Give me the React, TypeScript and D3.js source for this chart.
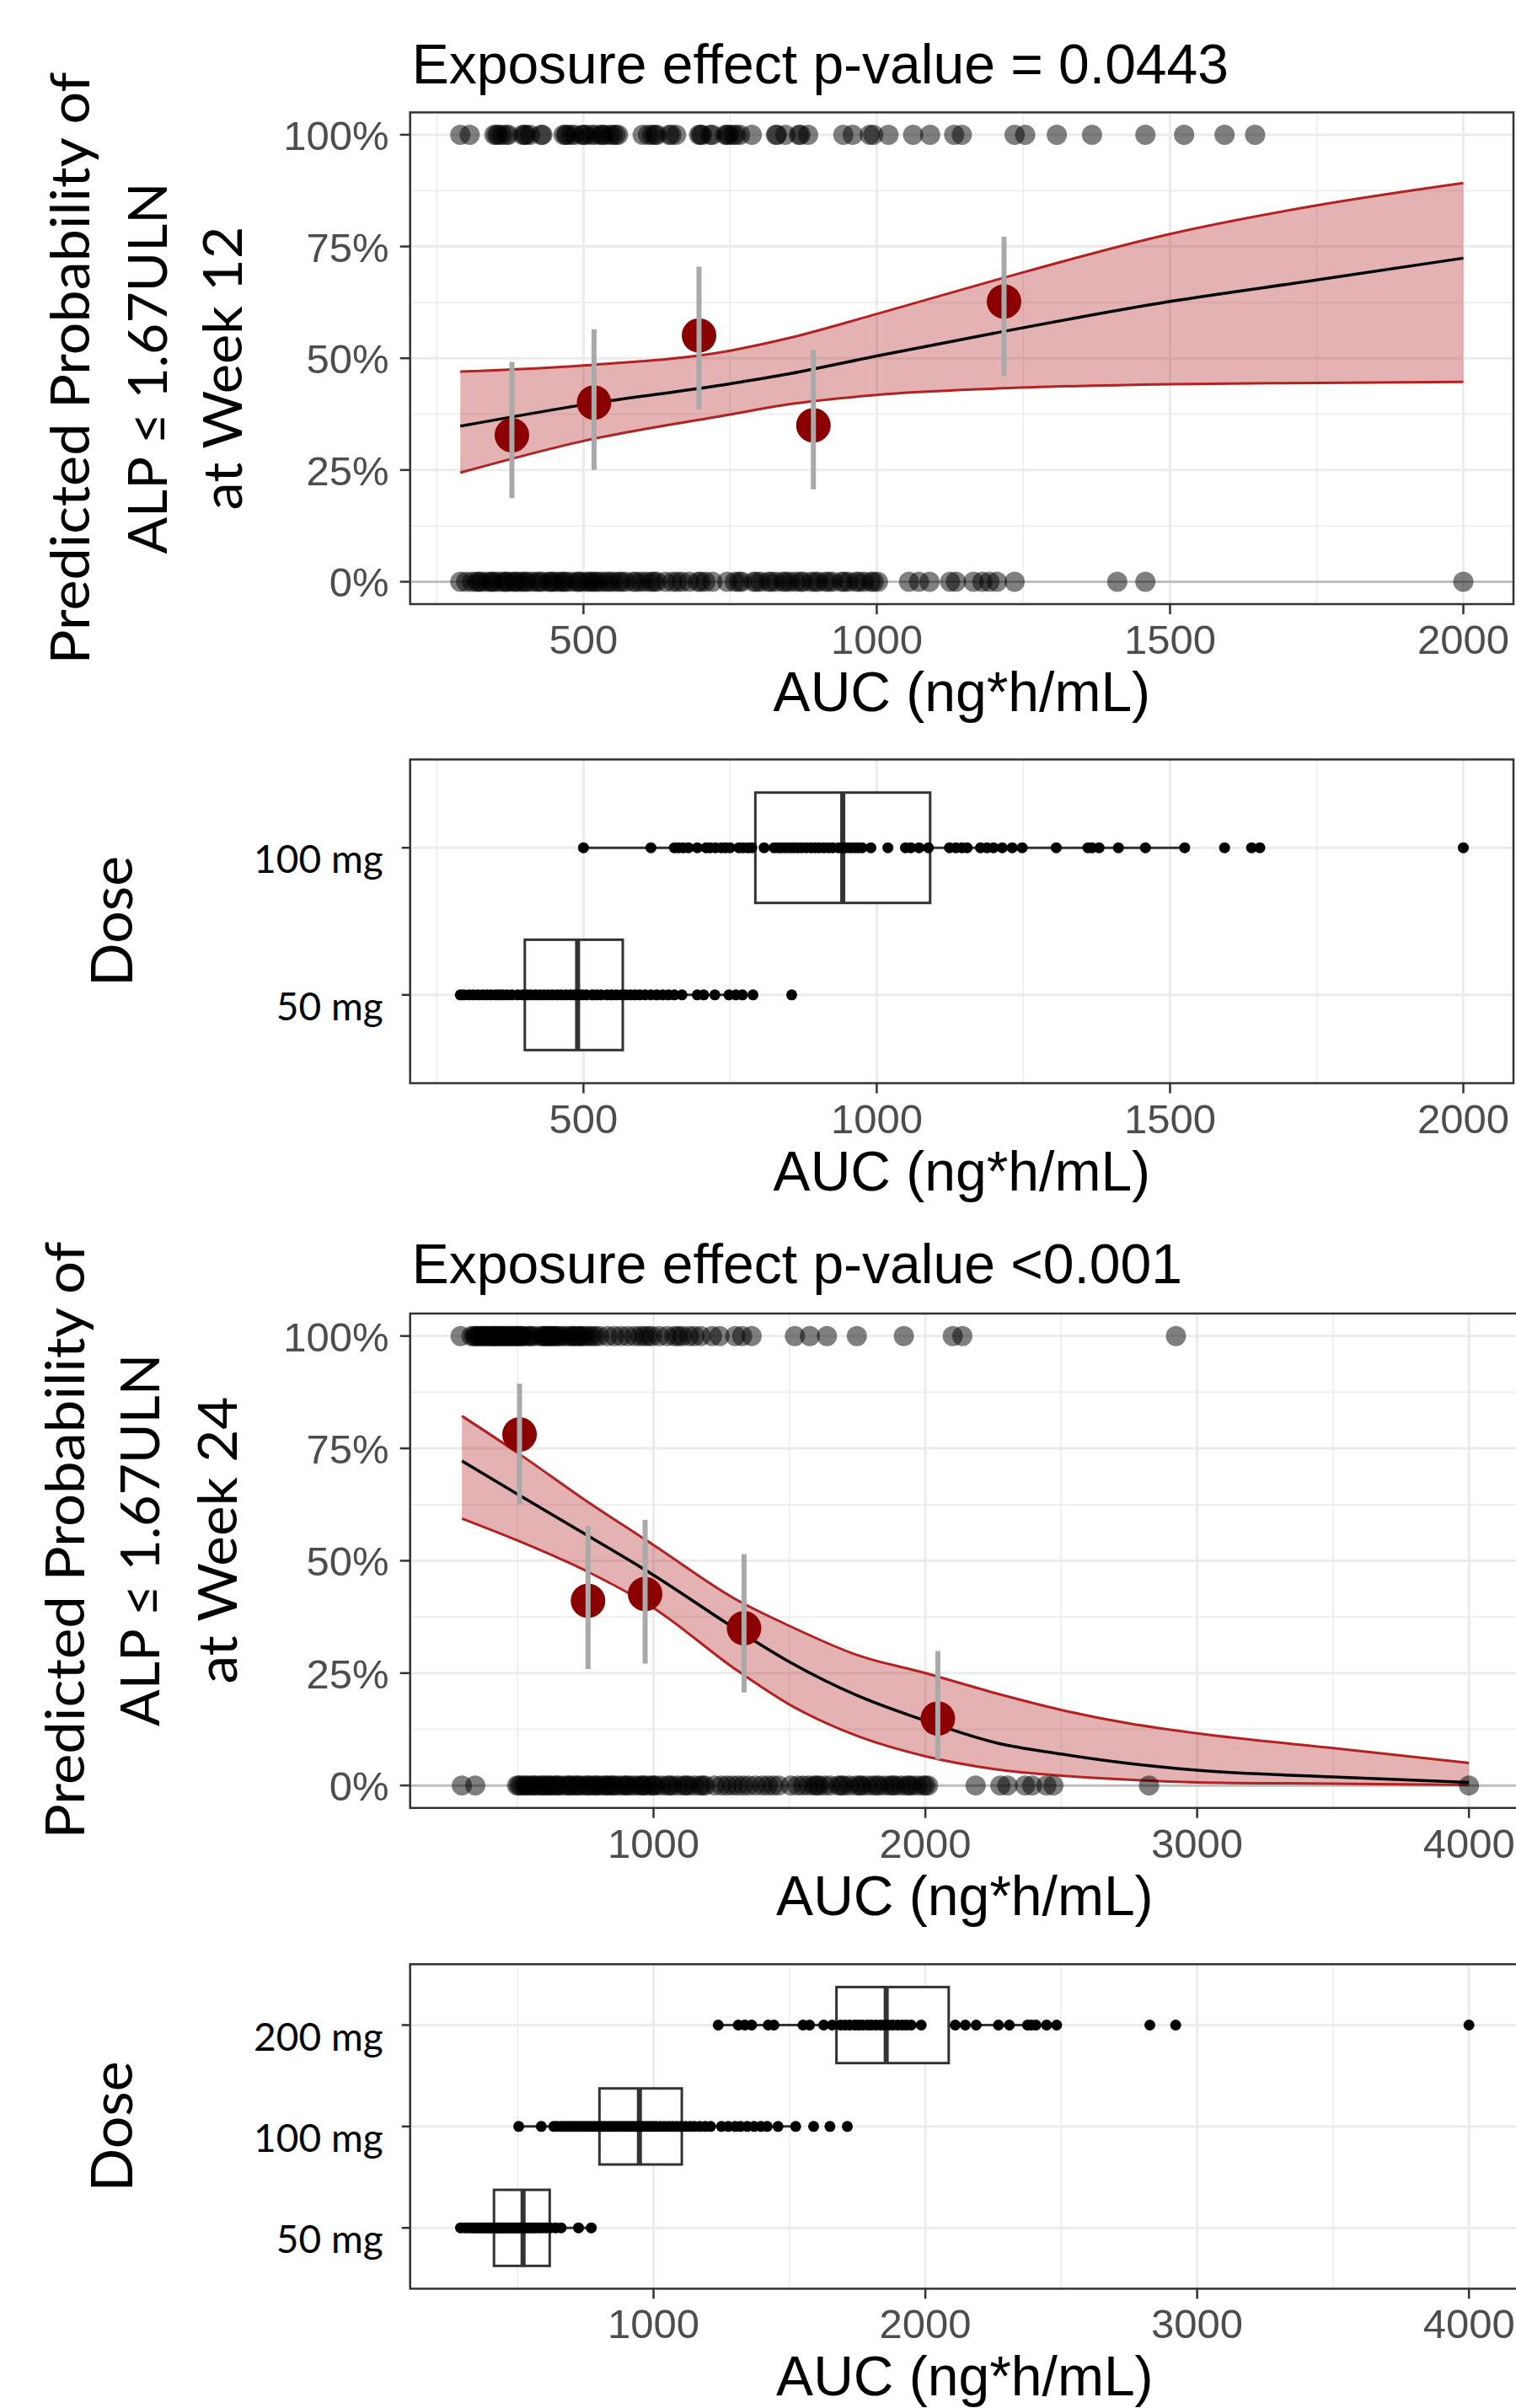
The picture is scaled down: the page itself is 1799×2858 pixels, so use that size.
import { useEffect, useRef } from "react";
import * as d3 from "d3";

const W = 1799;
const H = 2858;
const SANS = "'Liberation Sans', Arial, sans-serif";
const LATO = "Lato, 'Open Sans', sans-serif";

// ---------- week 12 : logistic fit (%)
const fitAuc12 = [290, 500, 750, 850, 1000, 1200, 1500, 1750, 2000];
const fitMid12 = [34.8, 39.6, 44.3, 46.5, 50.5, 55.6, 62.7, 67.5, 72.4];
const fitLo12 = [24.4, 31.5, 37.4, 39.7, 41.8, 43.2, 44.2, 44.5, 44.7];
const fitHi12 = [47.0, 48.4, 51.7, 54.5, 59.9, 67.4, 77.8, 84.2, 89.2];

// observed proportion per exposure bin
const obsAuc12 = [378, 518, 697, 892, 1217];
const obsPct12 = [32.8, 40.1, 55.1, 35.0, 62.7];
const obsLo12 = [18.7, 25.0, 38.6, 20.7, 46.0];
const obsHi12 = [49.2, 56.5, 70.5, 51.8, 77.2];

// individual subjects (responders at 100%, non-responders at 0%)
const yes12 = [290, 306, 348, 352, 355, 361, 368, 372, 396, 400, 402, 409, 428, 430, 466, 470, 472, 479, 485, 498,
  500, 505, 514, 520, 530, 532, 536, 545, 550, 555, 559, 601, 610, 617, 622, 625, 646, 650, 658, 697, 700, 702, 716,
  720, 742, 745, 748, 755, 760, 767, 787, 828, 830, 844, 867, 870, 883, 943, 959, 988, 994, 1020, 1062, 1091, 1132,
  1145, 1235, 1253, 1307, 1367, 1458, 1524, 1593, 1645];
const no12 = [290, 300, 310, 318, 322, 326, 335, 342, 345, 350, 358, 365, 368, 372, 380, 384, 388, 395, 400, 404,
  412, 420, 425, 430, 440, 445, 448, 455, 462, 466, 470, 478, 488, 492, 496, 505, 510, 515, 520, 525, 532, 540, 545,
  552, 560, 565, 572, 585, 590, 598, 606, 615, 620, 625, 640, 652, 660, 668, 680, 695, 700, 708, 720, 745, 758, 765,
  770, 790, 795, 802, 815, 820, 828, 840, 845, 852, 862, 870, 875, 888, 895, 900, 912, 918, 925, 940, 945, 952, 965,
  970, 978, 990, 995, 1002, 1055, 1072, 1090, 1125, 1135, 1165, 1180, 1192, 1205, 1235, 1410, 1458, 2000];

// dose groups, week 12 population
const doses12 = ["50 mg", "100 mg"];
const d50_12 = [290, 296, 305, 312, 320, 328, 335, 342, 350, 356, 362, 370, 378, 388, 396, 404, 410, 418, 425, 432,
  440, 447, 455, 462, 470, 478, 485, 492, 498, 505, 515, 522, 530, 540, 548, 556, 565, 572, 580, 588, 596, 605, 615,
  625, 635, 645, 655, 668, 694, 705, 724, 748, 760, 771, 789, 855];
const d100_12 = [500, 615, 655, 662, 670, 679, 694, 709, 716, 725, 735, 742, 750, 765, 772, 780, 787, 808, 825, 832,
  838, 845, 852, 858, 865, 872, 880, 888, 895, 902, 910, 918, 925, 935, 942, 948, 955, 962, 968, 975, 990, 1019,
  1049, 1058, 1072, 1088, 1124, 1135, 1145, 1154, 1177, 1188, 1199, 1214, 1231, 1248, 1306, 1360, 1367, 1379, 1412,
  1458, 1525, 1593, 1639, 1653, 2000];
const q1_12 = [400, 793];
const med12 = [490, 942];
const q3_12 = [567, 1091];
const wLo12 = [290, 500];
const wHi12 = [789, 1525];

// ---------- week 24
const fitAuc24 = [295, 500, 760, 1000, 1300, 1500, 1750, 2000, 2260, 2500, 2750, 3000, 3500, 4000];
const fitMid24 = [72.2, 64.8, 55.5, 46.8, 34.9, 27.5, 20.0, 14.4, 9.5, 7.0, 4.9, 3.4, 1.9, 0.7];
const fitLo24 = [59.4, 54.5, 47.5, 39.5, 25.9, 18.0, 11.0, 6.5, 3.6, 2.2, 1.3, 0.7, 0.4, 0.1];
const fitHi24 = [82.2, 74.0, 63.0, 53.5, 41.5, 35.5, 29.0, 25.0, 20.5, 16.8, 13.8, 11.6, 8.3, 5.0];

const obsAuc24 = [507, 759, 969, 1333, 2046];
const obsPct24 = [78.1, 41.1, 42.6, 35.0, 14.9];
const obsLo24 = [62.6, 25.9, 27.1, 20.7, 5.8];
const obsHi24 = [89.4, 57.7, 59.1, 51.5, 29.9];

const yes24 = [290, 330, 340, 345, 352, 360, 365, 372, 380, 385, 390, 398, 405, 410, 415, 420, 425, 432, 440, 445,
  450, 458, 466, 470, 475, 485, 490, 495, 503, 510, 515, 520, 535, 545, 550, 565, 585, 595, 600, 605, 615, 620, 625,
  635, 640, 648, 660, 672, 685, 698, 705, 710, 722, 730, 735, 748, 760, 772, 785, 800, 830, 856, 880, 905, 930, 950,
  966, 980, 994, 1020, 1050, 1077, 1090, 1105, 1130, 1150, 1174, 1215, 1243, 1301, 1326, 1361, 1520, 1575, 1638,
  1748, 1921, 2101, 2136, 2922];
const no24 = [295, 344, 498, 505, 512, 525, 530, 540, 552, 560, 566, 580, 590, 595, 608, 615, 622, 636, 645, 650,
  665, 680, 690, 695, 710, 720, 725, 740, 755, 760, 770, 785, 790, 800, 815, 825, 830, 845, 850, 860, 875, 890, 900,
  905, 920, 935, 950, 960, 965, 980, 995, 1000, 1010, 1030, 1050, 1060, 1070, 1090, 1110, 1120, 1130, 1150, 1170,
  1180, 1190, 1225, 1250, 1270, 1290, 1310, 1330, 1350, 1375, 1400, 1420, 1440, 1460, 1505, 1530, 1550, 1570, 1590,
  1600, 1610, 1630, 1650, 1680, 1690, 1700, 1720, 1745, 1760, 1765, 1785, 1805, 1820, 1830, 1850, 1870, 1880, 1890,
  1910, 1930, 1940, 1950, 1970, 1990, 2000, 2010, 2185, 2276, 2302, 2367, 2393, 2445, 2471, 2823, 4000];

const doses24 = ["50 mg", "100 mg", "200 mg"];
const d50_24 = [290, 305, 318, 330, 340, 350, 360, 368, 376, 385, 395, 402, 410, 418, 425, 432, 440, 448, 455, 462,
  470, 478, 486, 494, 502, 510, 518, 526, 535, 545, 555, 565, 578, 590, 605, 620, 640, 660, 724, 771];
const d100_24 = [504, 587, 633, 645, 660, 672, 685, 698, 710, 722, 735, 748, 760, 772, 785, 798, 810, 822, 835, 848,
  860, 872, 885, 898, 910, 922, 935, 948, 960, 972, 985, 998, 1010, 1025, 1040, 1055, 1070, 1085, 1100, 1118, 1135,
  1150, 1170, 1190, 1210, 1250, 1275, 1300, 1320, 1345, 1370, 1395, 1418, 1458, 1523, 1589, 1649, 1713];
const d200_24 = [1238, 1312, 1336, 1361, 1422, 1443, 1550, 1574, 1626, 1657, 1688, 1705, 1722, 1740, 1755, 1770,
  1788, 1802, 1818, 1835, 1850, 1865, 1880, 1898, 1915, 1930, 1948, 1985, 2110, 2147, 2187, 2269, 2309, 2376, 2390,
  2407, 2446, 2483, 2826, 2921, 4000];
const q1_24 = [413, 801, 1673];
const med24 = [520, 948, 1856];
const q3_24 = [618, 1104, 2086];
const wLo24 = [290, 504, 1238];
const wHi24 = [771, 1523, 2483];

const yTicks = [0, 0.25, 0.5, 0.75, 1];
const yMinor = [0.125, 0.375, 0.625, 0.875];
const xTicks12 = [500, 1000, 1500, 2000];
const xMinor12 = [250, 750, 1250, 1750];
const xTicks24 = [1000, 2000, 3000, 4000];
const xMinor24 = [500, 1500, 2500, 3500];

type Sel = d3.Selection<SVGSVGElement, unknown, null, undefined>;

const expand = (vals: number[]) => {
  const [mn, mx] = d3.extent(vals) as [number, number];
  const pad = (mx - mn) * 0.05;
  return [mn - pad, mx + pad];
};

function xAxis(svg: Sel, x: d3.ScaleLinear<number, number>, ticks: number[], bottom: number) {
  svg.append("g").selectAll("line").data(ticks).join("line")
    .attr("x1", d => x(d)).attr("x2", d => x(d))
    .attr("y1", bottom).attr("y2", bottom + 12)
    .attr("stroke", "#333").attr("stroke-width", 2.5);
  svg.append("g").selectAll("text").data(ticks).join("text")
    .attr("x", d => x(d)).attr("y", bottom + 59)
    .attr("text-anchor", "middle")
    .attr("font-family", SANS).attr("font-size", 49).attr("fill", "#4D4D4D")
    .text(d => String(d));
  const [r0, r1] = x.range();
  svg.append("text")
    .attr("x", (r0 + r1) / 2).attr("y", bottom + 127)
    .attr("text-anchor", "middle")
    .attr("font-family", SANS).attr("font-size", 66).attr("fill", "#000")
    .text("AUC (ng*h/mL)");
}

function vGrid(svg: Sel, x: d3.ScaleLinear<number, number>, major: number[], minor: number[], top: number, bottom: number) {
  svg.append("g").selectAll("line").data(minor).join("line")
    .attr("x1", d => x(d)).attr("x2", d => x(d)).attr("y1", top).attr("y2", bottom)
    .attr("stroke", "#EBEBEB").attr("stroke-width", 1.5);
  svg.append("g").selectAll("line").data(major).join("line")
    .attr("x1", d => x(d)).attr("x2", d => x(d)).attr("y1", top).attr("y2", bottom)
    .attr("stroke", "#EBEBEB").attr("stroke-width", 2.9);
}

function drawProb(svg: Sel, c: any) {
  const x = d3.scaleLinear().domain(c.xDomain).range([c.left, c.right]);
  const y = d3.scaleLinear().domain([-0.05, 1.05]).range([c.bottom, c.top]);

  svg.append("rect").attr("x", c.left).attr("y", c.top)
    .attr("width", c.right - c.left).attr("height", c.bottom - c.top).attr("fill", "#fff");

  svg.append("g").selectAll("line").data(yMinor).join("line")
    .attr("x1", c.left).attr("x2", c.right).attr("y1", d => y(d)).attr("y2", d => y(d))
    .attr("stroke", "#EBEBEB").attr("stroke-width", 1.5);
  vGrid(svg, x, c.xTicks, c.xMinor, c.top, c.bottom);
  svg.append("g").selectAll("line").data(yTicks).join("line")
    .attr("x1", c.left).attr("x2", c.right).attr("y1", d => y(d)).attr("y2", d => y(d))
    .attr("stroke", "#EBEBEB").attr("stroke-width", 2.9);
  svg.append("line").attr("x1", c.left).attr("x2", c.right).attr("y1", y(0)).attr("y2", y(0))
    .attr("stroke", "#BEBEBE").attr("stroke-width", 3);

  const idx = d3.range(c.fitAuc.length);
  const band = d3.area<number>()
    .x(i => x(c.fitAuc[i]))
    .y0(i => y(c.fitLo[i] / 100))
    .y1(i => y(c.fitHi[i] / 100))
    .curve(d3.curveMonotoneX);
  svg.append("path").datum(idx).attr("d", band)
    .attr("fill", "#B22222").attr("fill-opacity", 0.35);
  const edge = (arr: number[]) => d3.line<number>().x(i => x(c.fitAuc[i])).y(i => y(arr[i] / 100)).curve(d3.curveMonotoneX);
  [c.fitLo, c.fitHi].forEach((arr: number[]) => {
    svg.append("path").datum(idx).attr("d", edge(arr))
      .attr("fill", "none").attr("stroke", "#B22222").attr("stroke-width", 3);
  });
  svg.append("path").datum(idx).attr("d", edge(c.fitMid))
    .attr("fill", "none").attr("stroke", "#000").attr("stroke-width", 3.5);

  const oi = d3.range(c.obsAuc.length);
  svg.append("g").selectAll("circle").data(oi).join("circle")
    .attr("cx", i => x(c.obsAuc[i])).attr("cy", i => y(c.obsPct[i] / 100))
    .attr("r", 20.5).attr("fill", "#8B0000");
  svg.append("g").selectAll("line").data(oi).join("line")
    .attr("x1", i => x(c.obsAuc[i])).attr("x2", i => x(c.obsAuc[i]))
    .attr("y1", i => y(c.obsLo[i] / 100)).attr("y2", i => y(c.obsHi[i] / 100))
    .attr("stroke", "#A9A9A9").attr("stroke-width", 6);

  const rows = [{ v: c.yes, p: 1 }, { v: c.no, p: 0 }];
  rows.forEach(r => {
    svg.append("g").selectAll("circle").data(r.v).join("circle")
      .attr("cx", d => x(d as number)).attr("cy", y(r.p))
      .attr("r", 12).attr("fill", "#000").attr("fill-opacity", 0.5);
  });

  svg.append("rect").attr("x", c.left).attr("y", c.top)
    .attr("width", c.right - c.left).attr("height", c.bottom - c.top)
    .attr("fill", "none").attr("stroke", "#333").attr("stroke-width", 2.5);

  // y axis
  svg.append("g").selectAll("line").data(yTicks).join("line")
    .attr("x1", c.left - 12).attr("x2", c.left).attr("y1", d => y(d)).attr("y2", d => y(d))
    .attr("stroke", "#333").attr("stroke-width", 2.5);
  svg.append("g").selectAll("text").data(yTicks).join("text")
    .attr("x", c.left - 25).attr("y", d => y(d) + 18)
    .attr("text-anchor", "end")
    .attr("font-family", SANS).attr("font-size", 49).attr("fill", "#4D4D4D")
    .text(d => d3.format(".0%")(d));
  xAxis(svg, x, c.xTicks, c.bottom);

  svg.append("text").attr("x", c.left + 2).attr("y", c.titleY)
    .attr("font-family", SANS).attr("font-size", 66).attr("fill", "#000")
    .text(c.title);

  c.yLines.forEach((t: string, i: number) => {
    svg.append("text")
      .attr("transform", `translate(${c.yLineX[i]},${c.yMid}) rotate(-90)`)
      .attr("text-anchor", "middle")
      .attr("font-family", LATO).attr("font-size", 64).attr("fill", "#000")
      .attr("textLength", c.yLineLen[i]).attr("lengthAdjust", "spacingAndGlyphs")
      .text(t);
  });
  return x;
}

function drawDose(svg: Sel, x: d3.ScaleLinear<number, number>, c: any) {
  const y = d3.scalePoint<string>().domain(c.cats).range([c.bottom, c.top]).padding(0.6);
  const half = y.step() * 0.375;
  const [l, r] = x.range();

  svg.append("rect").attr("x", l).attr("y", c.top)
    .attr("width", r - l).attr("height", c.bottom - c.top).attr("fill", "#fff");
  vGrid(svg, x, c.xTicks, c.xMinor, c.top, c.bottom);
  svg.append("g").selectAll("line").data(c.cats).join("line")
    .attr("x1", l).attr("x2", r).attr("y1", d => y(d as string)!).attr("y2", d => y(d as string)!)
    .attr("stroke", "#EBEBEB").attr("stroke-width", 2.9);

  c.cats.forEach((cat: string, i: number) => {
    const cy = y(cat)!;
    const g = svg.append("g").attr("stroke", "#333").attr("fill", "none");
    g.append("line").attr("x1", x(c.wLo[i])).attr("x2", x(c.q1[i])).attr("y1", cy).attr("y2", cy).attr("stroke-width", 3);
    g.append("line").attr("x1", x(c.q3[i])).attr("x2", x(c.wHi[i])).attr("y1", cy).attr("y2", cy).attr("stroke-width", 3);
    g.append("rect").attr("x", x(c.q1[i])).attr("y", cy - half)
      .attr("width", x(c.q3[i]) - x(c.q1[i])).attr("height", half * 2)
      .attr("fill", "#fff").attr("stroke-width", 3);
    g.append("line").attr("x1", x(c.med[i])).attr("x2", x(c.med[i]))
      .attr("y1", cy - half).attr("y2", cy + half).attr("stroke-width", 6);
    svg.append("g").selectAll("circle").data(c.points[i]).join("circle")
      .attr("cx", d => x(d as number)).attr("cy", cy).attr("r", 6.5).attr("fill", "#000");
  });

  svg.append("rect").attr("x", l).attr("y", c.top)
    .attr("width", r - l).attr("height", c.bottom - c.top)
    .attr("fill", "none").attr("stroke", "#333").attr("stroke-width", 2.5);

  svg.append("g").selectAll("line").data(c.cats).join("line")
    .attr("x1", l - 10).attr("x2", l).attr("y1", d => y(d as string)!).attr("y2", d => y(d as string)!)
    .attr("stroke", "#333").attr("stroke-width", 2.5);
  svg.append("g").selectAll("text").data(c.cats).join("text")
    .attr("x", l - 32).attr("y", d => y(d as string)! + 30)
    .attr("text-anchor", "end")
    .attr("font-family", LATO).attr("font-size", 46).attr("fill", "#000")
    .text(d => d as string);
  xAxis(svg, x, c.xTicks, c.bottom);

  svg.append("text")
    .attr("transform", `translate(157,${(c.top + c.bottom) / 2}) rotate(-90)`)
    .attr("text-anchor", "middle")
    .attr("font-family", LATO).attr("font-size", 68).attr("fill", "#000")
    .text("Dose");
}

const App = () => {
  const ref = useRef<SVGSVGElement>(null);

  useEffect(() => {
    document.body.style.margin = "0";
    const svg = d3.select(ref.current!) as Sel;
    svg.selectAll("*").remove();

    const x12 = drawProb(svg, {
      left: 486.7, right: 1796, top: 133.4, bottom: 717,
      xDomain: expand([...yes12, ...no12]),
      xTicks: xTicks12, xMinor: xMinor12,
      fitAuc: fitAuc12, fitMid: fitMid12, fitLo: fitLo12, fitHi: fitHi12,
      obsAuc: obsAuc12, obsPct: obsPct12, obsLo: obsLo12, obsHi: obsHi12,
      yes: yes12, no: no12,
      title: "Exposure effect p-value = 0.0443", titleY: 99,
      yLines: ["Predicted Probability of", "ALP \u2264 1.67ULN", "at Week 12"],
      yLineX: [106, 198, 287], yMid: 437, yLineLen: [703, 441, 337],
    });
    drawDose(svg, x12, {
      top: 901.4, bottom: 1285.6, cats: doses12,
      xTicks: xTicks12, xMinor: xMinor12,
      q1: q1_12, med: med12, q3: q3_12, wLo: wLo12, wHi: wHi12,
      points: [d50_12, d100_12],
    });

    const x24 = drawProb(svg, {
      left: 486.7, right: 1803, top: 1559, bottom: 2145.8,
      xDomain: expand([...yes24, ...no24]),
      xTicks: xTicks24, xMinor: xMinor24,
      fitAuc: fitAuc24, fitMid: fitMid24, fitLo: fitLo24, fitHi: fitHi24,
      obsAuc: obsAuc24, obsPct: obsPct24, obsLo: obsLo24, obsHi: obsHi24,
      yes: yes24, no: no24,
      title: "Exposure effect p-value <0.001", titleY: 1523,
      yLines: ["Predicted Probability of", "ALP \u2264 1.67ULN", "at Week 24"],
      yLineX: [100, 189, 281], yMid: 1828, yLineLen: [709, 442, 341],
    });
    drawDose(svg, x24, {
      top: 2331.3, bottom: 2716.4, cats: doses24,
      xTicks: xTicks24, xMinor: xMinor24,
      q1: q1_24, med: med24, q3: q3_24, wLo: wLo24, wHi: wHi24,
      points: [d50_24, d100_24, d200_24],
    });
  }, []);

  return <svg ref={ref} width={W} height={H} style={{ display: "block", background: "#fff" }} />;
};

export default App;
